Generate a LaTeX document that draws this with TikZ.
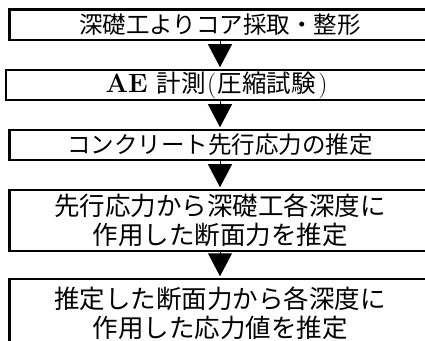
\documentclass[tikz,border=0pt]{standalone}
\usepackage{fontspec}
\newfontfamily\jp{Noto Sans CJK JP}
\usetikzlibrary{arrows.meta}
\begin{document}
\begin{tikzpicture}[x=1pt,y=1pt,
  box/.style={draw=black, line width=2.5pt, minimum width=421pt, inner sep=0pt,
    align=center, font=\jp\fontsize{23.5}{29}\selectfont},
  bigbox/.style={box, font=\jp\fontsize{25.5}{29.5}\selectfont},
  flow/.style={line width=1pt, -{Triangle[length=23pt,width=24pt]}, shorten >=1.5pt}]
\useasboundingbox (0,0) rectangle (425,340);
\node[box, minimum height=30.5pt] (b1) at (220,315.25) {深礎工よりコア採取・整形};
\node[box, minimum height=30pt, font=\jp\fontsize{24.5}{29}\selectfont] (b2) at (216.5,255) {{\rmfamily\bfseries\fontsize{26.5}{29}\selectfont AE}\hspace{9pt}計測{\rmfamily\fontsize{26}{29}\selectfont\kern1.5pt(\kern1.5pt}圧縮試験{\rmfamily\fontsize{26}{29}\selectfont\kern2.5pt)}};
\node[box, minimum height=30pt] (b3) at (220,195) {コンクリート先行応力の推定};
\node[bigbox, minimum height=61pt] (b4) at (220,119.5) {先行応力から深礎工各深度に\\作用した断面力を推定};
\node[bigbox, minimum height=66pt, text depth=0pt] (b5) at (220,28) {推定した断面力から各深度に\\作用した応力値を推定};
\draw[flow] (b1.south -| b1) -- (b2.north -| b1);
\draw[flow] (b2.south -| b1) -- (b3.north -| b1);
\draw[flow] (b3) -- (b4);
\draw[flow] (b4) -- (b5);
\end{tikzpicture}
\end{document}
